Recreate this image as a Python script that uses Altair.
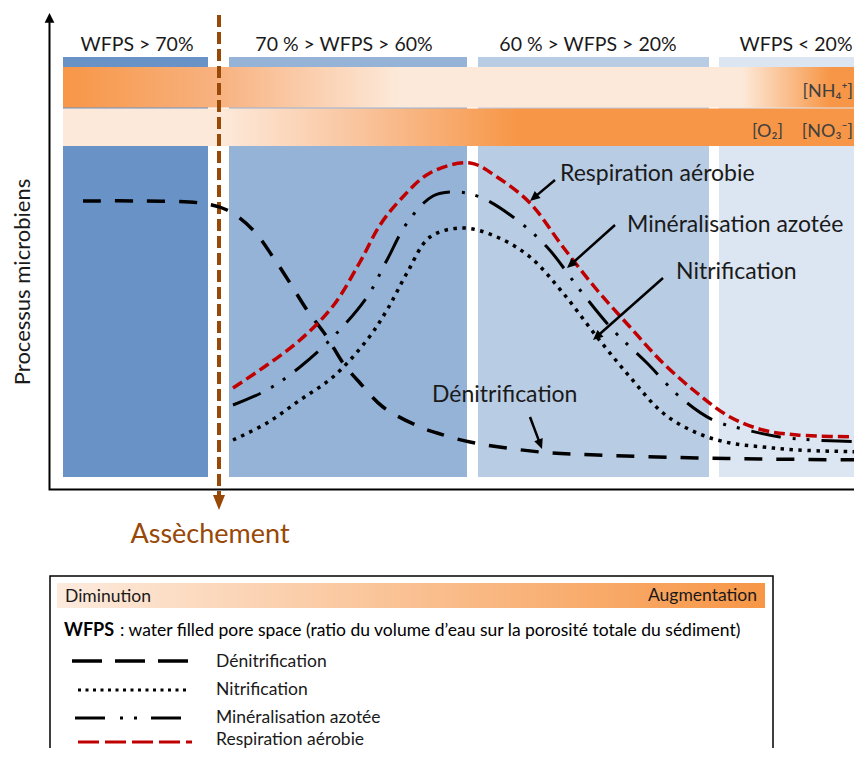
import math
import altair as alt
import pandas as pd

FONT = "Lato"

# ---------------- data (reference coordinate system, y grows downward) ----------------
panel_labels = ["WFPS > 70%", "70 % > WFPS > 60%", "60 % > WFPS > 20%", "WFPS < 20%"]
panel_label_x = [137, 344, 588, 796]
panel_x0 = [63, 229, 478, 719]
panel_x1 = [208, 467, 709, 880]
panel_colors = ["#6993C6", "#95B3D7", "#B8CCE4", "#DCE6F2"]

denit_x = [83, 140, 200, 227, 253, 273, 290, 307, 327, 343, 360, 383, 420, 437, 470, 540, 597, 697, 760, 870]
denit_y = [201, 201, 203, 210, 230, 257, 283, 310, 337, 363, 383, 407, 427, 433, 442, 452, 455, 458, 459, 460]

resp_x = [233, 267, 300, 333, 360, 380, 400, 430, 470, 497, 530, 563, 597, 630, 663, 697, 730, 763, 797, 870]
resp_y = [388, 365, 340, 306, 262, 225, 200, 173, 163, 177, 203, 247, 290, 327, 363, 393, 417, 430, 435, 437]

miner_x = [233, 267, 300, 333, 367, 387, 407, 433, 457, 480, 513, 547, 580, 613, 647, 680, 713, 747, 780, 813, 870]
miner_y = [405, 390, 367, 337, 297, 260, 223, 196, 192, 197, 217, 247, 290, 330, 363, 397, 420, 430, 437, 440, 442]

nitr_x = [233, 267, 300, 333, 367, 387, 407, 430, 463, 497, 530, 563, 597, 630, 663, 697, 730, 763, 797, 870]
nitr_y = [440, 423, 400, 377, 340, 310, 273, 237, 228, 237, 257, 293, 337, 377, 413, 433, 443, 447, 450, 452]

# annotation arrows
annot_labels = ["Respiration aérobie", "Minéralisation azotée", "Nitrification", "Dénitrification"]
annot_x0 = [555, 615, 663, 530]
annot_y0 = [180, 225, 278, 417]
annot_x1 = [530, 567, 593, 542]
annot_y1 = [201, 268, 340, 449]
annot_tx = [560, 627, 676, 432]
annot_ty = [181, 232, 279, 402]

band_labels = ["[NH₄⁺]", "[O₂]", "[NO₃⁻]"]
band_label_x = [853, 783, 853]
band_label_y = [97, 137, 137]

legend_names = ["Dénitrification", "Nitrification", "Minéralisation azotée", "Respiration aérobie"]
legend_line_x0 = [72, 78, 75, 78]
legend_line_x1 = [190, 190, 182, 192]
legend_line_y = [661, 690, 718, 742]
legend_text_y = [667, 695, 723, 745]

ORANGE = "#F79646"
LIGHT = "#FDE9D9"
BROWN = "#984807"
TXT = "#1a1a1a"

# ---------------- scales ----------------
W, H = 846, 740
xs = alt.Scale(domain=[8, 8 + W], nice=False, zero=False)
ys = alt.Scale(domain=[8, 8 + H], nice=False, zero=False, reverse=True)


def enc_xy(ch):
    return ch.encode(x=alt.X("x:Q", scale=xs, axis=None), y=alt.Y("y:Q", scale=ys, axis=None))


def rect(df, **mark):
    return alt.Chart(df).mark_rect(**mark).encode(
        x=alt.X("x:Q", scale=xs, axis=None), x2="x2:Q",
        y=alt.Y("y:Q", scale=ys, axis=None), y2="y2:Q")


def grad(stops):
    return alt.Gradient(gradient="linear", x1=0, x2=1, y1=0, y2=0,
                        stops=[alt.GradientStop(offset=o, color=c) for o, c in stops])


def text(xv, yv, tv, **mark):
    df = pd.DataFrame({"x": xv, "y": yv, "t": tv})
    base = dict(baseline="alphabetic", font=FONT, color=TXT)
    base.update(mark)
    return enc_xy(alt.Chart(df).mark_text(**base)).encode(text="t:N")


layers = []

# blue panels
panels = pd.DataFrame({"x": panel_x0, "x2": panel_x1, "y": [57] * 4, "y2": [477] * 4, "c": panel_colors})
layers.append(alt.Chart(panels).mark_rect().encode(
    x=alt.X("x:Q", scale=xs, axis=None), x2="x2:Q",
    y=alt.Y("y:Q", scale=ys, axis=None), y2="y2:Q",
    color=alt.Color("c:N", scale=None)))

# gradient bands
layers.append(rect(pd.DataFrame({"x": [63], "x2": [862], "y": [67], "y2": [107.5]}),
                   fill=grad([(0, ORANGE), (0.2, "#F8B382"), (0.42, LIGHT), (0.85, LIGHT), (0.96, ORANGE), (1, ORANGE)])))
layers.append(rect(pd.DataFrame({"x": [63], "x2": [862], "y": [108.5], "y2": [146]}),
                   fill=grad([(0, LIGHT), (0.2, LIGHT), (0.38, "#F9C29A"), (0.57, ORANGE), (1, ORANGE)])))

layers.append(text(band_label_x, band_label_y, band_labels, align="right", fontSize=18, color="#404040"))

# header labels
layers.append(text(panel_label_x, [51] * 4, panel_labels, align="center", fontSize=19.5))

# brown dashed "assèchement" line
layers.append(enc_xy(alt.Chart(pd.DataFrame({"x": [219, 219], "y": [15, 497]})).mark_line(
    color=BROWN, strokeWidth=4, strokeDash=[12, 5])))


def arrowhead(x0, y0, x1, y1, size, color, path="M0,0L0.45,1L-0.45,1Z"):
    a = math.degrees(math.atan2(x1 - x0, -(y1 - y0))) % 360
    df = pd.DataFrame({"x": [x1], "y": [y1], "a": [a]})
    return enc_xy(alt.Chart(df).mark_point(shape=path, filled=True, size=size, color=color,
                                           opacity=1, strokeWidth=0)).encode(angle=alt.Angle("a:Q", scale=None))


layers.append(arrowhead(219, 300, 219, 510, 900, BROWN, "M0,0L0.4,1L-0.4,1Z"))

# axes
layers.append(enc_xy(alt.Chart(pd.DataFrame({"x": [49.5, 49.5, 870], "y": [20, 489.5, 489.5], "i": [0, 1, 2]})).mark_line(
    color="black", strokeWidth=2)).encode(order="i:Q"))
layers.append(arrowhead(49.5, 400, 49.5, 13, 380, "black", "M0,0L0.5,1L-0.5,1Z"))

# curves
curves = [
    (denit_x, denit_y, dict(color="black", strokeWidth=3.5, strokeDash=[18, 14])),
    (nitr_x, nitr_y, dict(color="black", strokeWidth=3.5, strokeDash=[3.5, 5.5])),
    (miner_x, miner_y, dict(color="black", strokeWidth=3, strokeDash=[30, 12, 3, 11, 3, 12])),
    (resp_x, resp_y, dict(color="#C00000", strokeWidth=3.5, strokeDash=[11, 5])),
]
for cx, cy, st in curves:
    df = pd.DataFrame({"x": cx, "y": cy, "i": list(range(len(cx)))})
    layers.append(enc_xy(alt.Chart(df).mark_line(interpolate="catmull-rom", **st)).encode(order="i:Q"))

# annotation arrows
for x0, y0, x1, y1 in zip(annot_x0, annot_y0, annot_x1, annot_y1):
    L = math.hypot(x1 - x0, y1 - y0)
    ex, ey = x1 - (x1 - x0) / L * 6, y1 - (y1 - y0) / L * 6
    layers.append(enc_xy(alt.Chart(pd.DataFrame({"x": [x0, ex], "y": [y0, ey]})).mark_line(
        color="black", strokeWidth=2.5)))
    layers.append(arrowhead(x0, y0, x1, y1, 400, "black"))

layers.append(text(annot_tx, annot_ty, annot_labels, align="left", fontSize=23))

# y label and Assèchement
layers.append(text([30], [282], ["Processus microbiens"], align="center", angle=270, fontSize=22))
layers.append(text([210], [543], ["Assèchement"], align="center", fontSize=27, color=BROWN))

# legend box
layers.append(rect(pd.DataFrame({"x": [50], "x2": [773], "y": [576], "y2": [800]}),
                   fill="white", stroke="black", strokeWidth=1.5))
layers.append(rect(pd.DataFrame({"x": [57], "x2": [765], "y": [583], "y2": [608]}),
                   fill=grad([(0, "#FDEBDE"), (1, ORANGE)])))
layers.append(text([65], [602], ["Diminution"], align="left", fontSize=17.5))
layers.append(text([757], [601], ["Augmentation"], align="right", fontSize=17.5))
layers.append(text([64], [636], ["WFPS"], align="left", fontSize=18, fontWeight="bold", color="black"))
layers.append(text([120], [636], [": water filled pore space (ratio du volume d’eau sur la porosité totale du sédiment)"],
                   align="left", fontSize=17.5, color="black"))

legend_styles = [
    dict(color="black", strokeWidth=3.5, strokeDash=[30, 13]),
    dict(color="black", strokeWidth=3, strokeDash=[3, 4.5]),
    dict(color="black", strokeWidth=3, strokeDash=[30, 15, 3, 11, 3, 14]),
    dict(color="#C00000", strokeWidth=3, strokeDash=[21, 6]),
]
for x0, x1, y, st in zip(legend_line_x0, legend_line_x1, legend_line_y, legend_styles):
    layers.append(enc_xy(alt.Chart(pd.DataFrame({"x": [x0, x1], "y": [y, y]})).mark_line(**st)))

layers.append(text([216] * 4, legend_text_y, legend_names, align="left", fontSize=17.5))

chart = alt.layer(*layers).properties(
    width=W, height=H, padding=0, autosize=alt.AutoSizeParams(type="none")
).configure_view(stroke=None)

chart.save("out.html", embed_options={"renderer": "svg", "actions": False})
